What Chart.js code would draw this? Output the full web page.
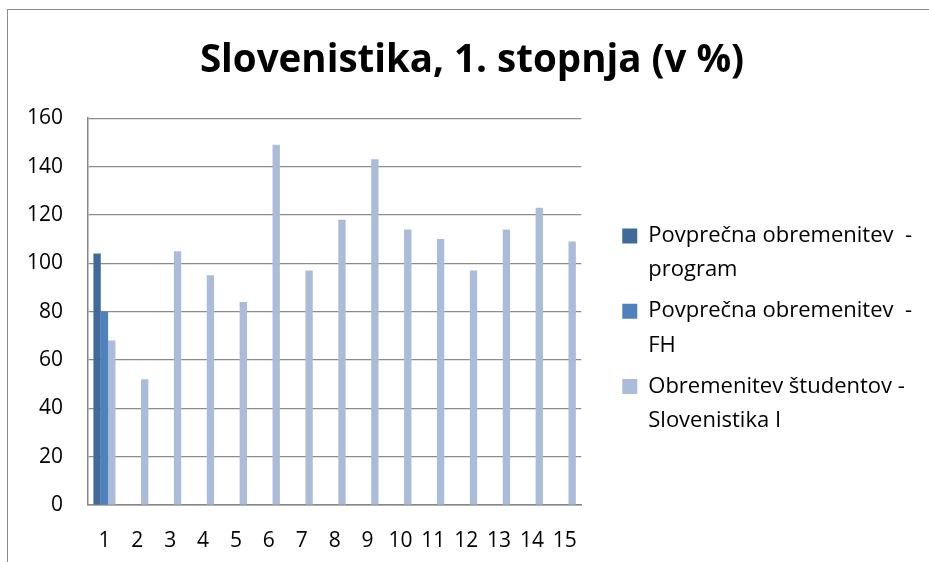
<!DOCTYPE html>
<html>
<head>
<meta charset="utf-8">
<script src="https://cdn.jsdelivr.net/npm/chart.js@4.4.1/dist/chart.umd.min.js"></script>
<style>
  html, body { margin: 0; padding: 0; background: #fff; overflow: hidden; }
  #wrap { position: relative; width: 929px; height: 562px; }
  #frame { position: absolute; left: 7px; top: 9px; width: 1000px; height: 1000px;
           border-left: 1.5px solid #8a8a8a; border-top: 1.5px solid #8a8a8a; pointer-events: none; }
  canvas { position: absolute; left: 0; top: 0; }
</style>
</head>
<body>
<div id="wrap">
  <canvas id="c" width="929" height="562"></canvas>
  <div id="frame"></div>
</div>
<script>
const titleText = 'Slovenistika, 1. stopnja (v %)';
const categories = ['1','2','3','4','5','6','7','8','9','10','11','12','13','14','15'];
const seriesNames = [
  ['Povprečna obremenitev  -', 'program'],
  ['Povprečna obremenitev  -', 'FH'],
  ['Obremenitev študentov -', 'Slovenistika I']
];
const programValues = [104, null, null, null, null, null, null, null, null, null, null, null, null, null, null];
const fhValues = [80, null, null, null, null, null, null, null, null, null, null, null, null, null, null];
const studentValues = [68, 52, 105, 95, 84, 149, 97, 118, 143, 114, 110, 97, 114, 123, 109];
const yTicks = [0, 20, 40, 60, 80, 100, 120, 140, 160];

const colors = ['#416A9C', '#4F81BD', '#ABBCDB'];
const FONT = "'Open Sans', 'DejaVu Sans', sans-serif";

new Chart(document.getElementById('c'), {
  type: 'bar',
  data: {
    labels: categories,
    datasets: [
      { label: seriesNames[0], data: programValues, backgroundColor: colors[0] },
      { label: seriesNames[1], data: fhValues, backgroundColor: colors[1] },
      { label: seriesNames[2], data: studentValues, backgroundColor: colors[2] }
    ]
  },
  options: {
    responsive: false,
    animation: false,
    devicePixelRatio: 1,
    layout: { padding: { left: 22, top: 10, right: 7, bottom: 0 } },
    datasets: { bar: { categoryPercentage: 0.67, barPercentage: 1.0, skipNull: false } },
    plugins: {
      title: {
        display: true,
        text: titleText,
        color: '#000',
        font: { family: FONT, size: 38.5, weight: 'bold', lineHeight: 1.2 },
        padding: { top: 28, bottom: 34 }
      },
      legend: {
        position: 'right',
        align: 'start',
        maxWidth: 400,
        title: { display: true, text: ' ', font: { size: 10, lineHeight: 1 }, padding: { top: 198, bottom: 0 } },
        labels: {
          color: '#000',
          font: { family: FONT, size: 22, lineHeight: 1.55 },
          boxWidth: 15,
          boxHeight: 15,
          padding: 7
        }
      },
      tooltip: { enabled: false }
    },
    scales: {
      x: {
        grid: { display: false, drawTicks: false },
        border: { display: true, color: '#868686', width: 1.5 },
        ticks: { color: '#000', font: { family: FONT, size: 21 }, padding: 23, maxRotation: 0, autoSkip: false },
        afterFit: s => { s.height = 57; }
      },
      y: {
        min: 0, max: 160,
        afterBuildTicks: s => { s.ticks = yTicks.map(v => ({ value: v })); },
        grid: { color: '#8c8c8c', lineWidth: 1.2, drawTicks: false },
        border: { display: true, color: '#868686', width: 1.5 },
        ticks: { color: '#000', font: { family: FONT, size: 21 }, padding: 25 },
        afterFit: s => { s.width = 66; }
      },
      gap: {
        position: 'right',
        display: true,
        grid: { display: false, drawTicks: false },
        border: { display: false },
        ticks: { display: false },
        afterFit: s => { s.width = 34; }
      }
    }
  }
});
</script>
</body>
</html>
